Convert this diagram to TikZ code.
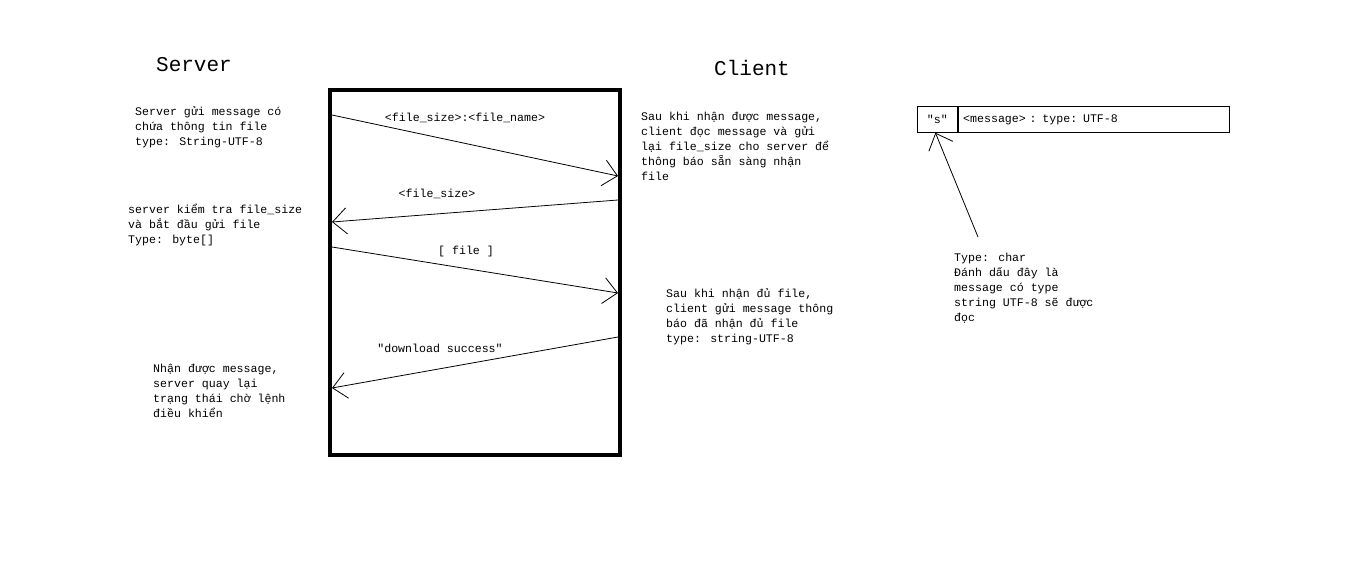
\documentclass[tikz,border=0pt]{standalone}
\usepackage{fontspec}
\setmainfont{Liberation Mono}[Ligatures=TeXOff]
\usetikzlibrary{arrows.meta}
\tikzset{
  txt/.style={anchor=north west, inner sep=0pt, align=left, font=\fontsize{11.6}{15}\selectfont},
  lbl/.style={inner sep=0pt, font=\fontsize{11.6}{15}\selectfont},
  ttl/.style={inner sep=0pt, font=\fontsize{21}{24}\selectfont},
  msg/.style={-{Straight Barb[length=14pt,width=26pt]}, line width=0.8pt}
}
\begin{document}
\begin{tikzpicture}[x=1pt, y=-1pt]
	\useasboundingbox (0,0) rectangle (1360,578);
	% titles
	\node[ttl] (server) at (194,65) {Server};
	\node[ttl] (client) at (752,68) {Client};
	% frame
	\draw[line width=4.5pt] (330,90) rectangle (620,455);
	\coordinate (s1) at (332,115);  \coordinate (c1) at (618,176);
	\coordinate (c2) at (618,200);  \coordinate (s2) at (332,222);
	\coordinate (s3) at (332,247);  \coordinate (c3) at (618,293);
	\coordinate (c4) at (618,337);  \coordinate (s4) at (332,388);
	\draw[msg] (s1) -- (c1);
	\draw[msg] (c2) -- (s2);
	\draw[msg] (s3) -- (c3);
	\draw[msg] (c4) -- (s4);
	\node[lbl] (l1) at (465,118) {<file\_size>:<file\_name>};
	\node[lbl] (l2) at (437,194) {<file\_size>};
	\node[lbl] (l3) at (466,251) {[ file ]};
	\node[lbl] (l4) at (440,348) {"download success"};
	% notes
	\node[txt] (n1) at (135,107) {Server gửi message có\\chứa thông tin file\\type: String-UTF-8};
	\node[txt] (n2) at (128,204) {server kiểm tra file\_size\\và bắt đầu gửi file\\Type: byte[]};
	\node[txt] (n3) at (153,364) {Nhận được message,\\server quay lại\\trạng thái chờ lệnh\\điều khiển};
	\node[txt] (n4) at (641,112) {Sau khi nhận được message,\\client đọc message và gửi\\lại file\_size cho server để\\thông báo sẵn sàng nhận\\file};
	\node[txt] (n5) at (666,289) {Sau khi nhận đủ file,\\client gửi message thông\\báo đã nhận đủ file\\type: string-UTF-8};
	% message format
	\node[draw, line width=0.8pt, minimum width=40pt, minimum height=26pt, inner sep=0pt, anchor=north west, font=\fontsize{11.6}{15}\selectfont] (sc) at (917,106) {"s"};
	\node[draw, line width=0.8pt, minimum width=271pt, minimum height=26pt, inner sep=5pt, anchor=north west, text width=261pt, align=left, font=\fontsize{11.6}{15}\selectfont] (mc) at (sc.north east) {<message> : type: UTF-8};
	\node[txt] (n6) at (954,253) {Type: char\\Đánh dấu đây là\\message có type\\string UTF-8 sẽ được\\đọc};
	\coordinate (t6) at (978,237);
	\draw[msg] (t6) -- ([xshift=-2pt]sc.south);
\end{tikzpicture}
\end{document}
